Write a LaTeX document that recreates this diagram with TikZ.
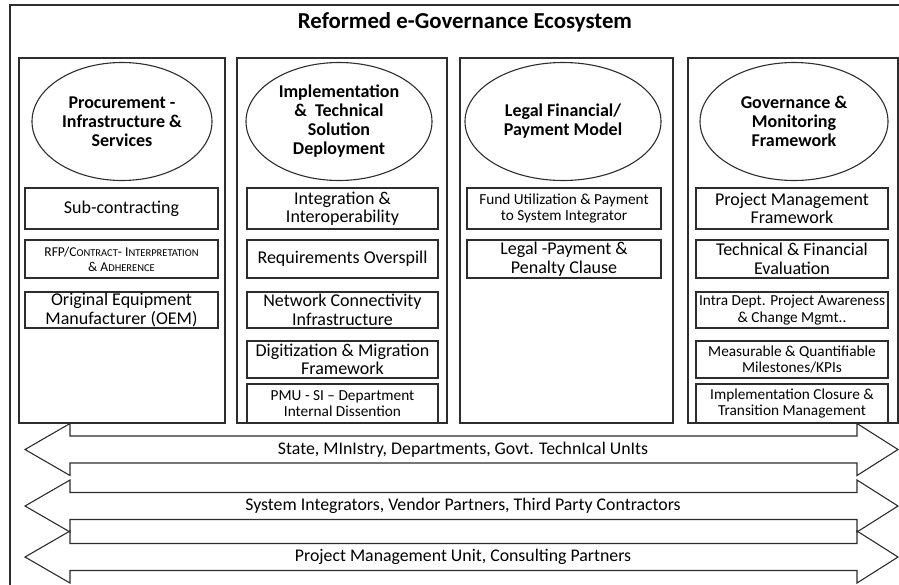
\documentclass[tikz,border=0pt]{standalone}
\usepackage{fontspec}
\setmainfont{Carlito}
\usetikzlibrary{shapes.geometric}
\definecolor{figK}{RGB}{45,45,45}

% fake small caps: capital, then the rest in a smaller size
\newcommand{\fsc}[2]{#1{\fontsize{10.5}{10.5}\selectfont #2}}

\begin{document}
\begin{tikzpicture}[x=1pt,y=-1pt,line width=1.1pt,
  col/.style={draw=figK,minimum height=365,inner sep=0},
  topic/.style={ellipse,draw=figK,minimum height=118,inner sep=0,align=center,font=\fontsize{18}{19}\selectfont\bfseries},
  item/.style={draw=figK,fill=white,inner sep=0,align=center,font=\fontsize{18}{18.5}\selectfont},
  small/.style={font=\fontsize{15.3}{16.5}\selectfont},
  band/.style={draw=figK,fill=white,line join=miter}]

\clip (0,0) rectangle (899,584);
\draw[figK] (10,600) -- (10,5) -- (910,5);
\node[font=\fontsize{22.8}{27}\selectfont\bfseries] (title) at (465,22) {Reformed e-Governance Ecosystem};

% the four pillars
\node[col,minimum width=206] (c1) at (122,240.5) {};
\node[col,minimum width=210] (c2) at (342,240.5) {};
\node[col,minimum width=213] (c3) at (566.5,240.5) {};
\node[col,minimum width=210] (c4) at (793,240.5) {};

\node[topic,minimum width=180] (t1) at (122,121.5) {Procurement -\\Infrastructure \&\\Services};
\node[topic,minimum width=186] (t2) at (339,121.5) {Implementation\\\& ~Technical\\Solution\\Deployment};
\node[topic,minimum width=196] (t3) at (563,121.5) {Legal Financial/\\Payment Model};
\node[topic,minimum width=188] (t4) at (794,121.5) {Governance \&\\Monitoring\\Framework};

% issue boxes, first pillar
\node[item,minimum width=193,minimum height=41] (p1) at (121.5,208.5) {Sub-contracting};
\node[item,minimum width=193,minimum height=38,font=\fontsize{13.5}{15}\selectfont] (p2) at (121.5,259) {RFP/\fsc{C}{ONTRACT}- \fsc{I}{NTERPRETATION}\\\& \fsc{A}{DHERENCE}};
\node[item,minimum width=193,minimum height=36] (p3) at (121.5,310) {Original Equipment\\Manufacturer (OEM)};

% second pillar
\node[item,minimum width=191,minimum height=41] (i1) at (342.5,208.5) {Integration \&\\Interoperability};
\node[item,minimum width=191,minimum height=38] (i2) at (342.5,259) {Requirements Overspill};
\node[item,minimum width=191,minimum height=36] (i3) at (342.5,310) {Network Connectivity\\Infrastructure};
\node[item,minimum width=191,minimum height=37] (i4) at (342.5,359.5) {Digitization \& Migration\\Framework};
\node[item,small,minimum width=191,minimum height=39] (i5) at (342.5,403.5) {PMU - SI – Department\\Internal Dissention};

% third pillar
\node[item,small,minimum width=194,minimum height=41] (l1) at (564,208.5) {Fund Utilization \& Payment\\to System Integrator};
\node[item,minimum width=194,minimum height=38] (l2) at (564,259) {Legal -Payment \&\\Penalty Clause};

% fourth pillar
\node[item,minimum width=192,minimum height=41] (g1) at (792,208.5) {Project Management\\Framework};
\node[item,minimum width=192,minimum height=38] (g2) at (792,259) {Technical \& Financial\\Evaluation};
\node[item,small,minimum width=192,minimum height=36] (g3) at (792,310) {Intra Dept. Project Awareness\\\& Change Mgmt..};
\node[item,small,minimum width=192,minimum height=37] (g4) at (792,359.5) {Measurable \& Quantifiable\\Milestones/KPIs};
\node[item,small,minimum width=192,minimum height=39] (g5) at (792,403.5) {Implementation Closure \&\\Transition Management};

% stakeholder bands across the bottom
\foreach \yc/\nm/\lbl in {449.5/s1/{State, MInIstry, Departments, Govt. TechnIcal UnIts},
    506/s2/{System Integrators, Vendor Partners, Third Party Contractors},
    557/s3/{Project Management Unit, Consulting Partners}}{
  \draw[band] (25,\yc) -- (70,\yc-26) -- (70,\yc-13.5) -- (857,\yc-13.5) -- (857,\yc-26)
    -- (898,\yc) -- (857,\yc+26) -- (857,\yc+13.5) -- (70,\yc+13.5) -- (70,\yc+26) -- cycle;
  \node[font=\fontsize{17.8}{18}\selectfont] (\nm) at (463,\yc) {\lbl};
}
\end{tikzpicture}
\end{document}
